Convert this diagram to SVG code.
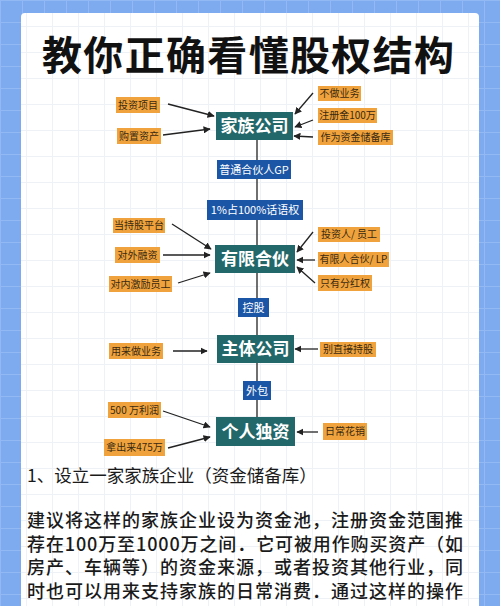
<svg xmlns="http://www.w3.org/2000/svg" width="500" height="606" viewBox="0 0 500 606">
<style>
.node rect{fill:#22686a}
.node text{fill:#fff;font-family:"Noto Sans CJK SC",sans-serif;font-weight:700;font-size:17px;text-anchor:middle}
.tag rect{fill:#1b56a6}
.tag text{fill:#fff;font-family:"Noto Sans CJK SC",sans-serif;font-size:11px;text-anchor:middle}
.lab rect{fill:#f0a33c}
.lab text{fill:#3a2a12;font-family:"Noto Sans CJK SC",sans-serif;font-size:10px;text-anchor:middle}
.con line{stroke:#222;stroke-width:1.3}
.con .arr{marker-end:url(#ah)}
.body{font-family:"Noto Sans CJK SC",sans-serif;fill:#1a1a1a}
</style>
<defs>
<marker id="ah" viewBox="0 0 10 10" refX="9" refY="5" markerWidth="5.5" markerHeight="5.5" orient="auto"><path d="M0,0L10,5L0,10z" fill="#222"/></marker>
<pattern id="bg" width="22" height="22" patternUnits="userSpaceOnUse"><rect width="22" height="22" fill="#7eaaf0"/><path d="M0,0.5H22M0.5,0V22" stroke="#93b9f4" stroke-width="1"/></pattern>
<pattern id="pg" width="26" height="26" patternUnits="userSpaceOnUse"><rect width="26" height="26" fill="#fff"/><path d="M0,0.5H26M0.5,0V26" stroke="#eef1f6" stroke-width="1"/></pattern>
</defs>
<rect width="500" height="606" fill="url(#bg)"/>
<rect x="21" y="13" width="458" height="600" rx="4" fill="url(#pg)"/>
<text x="248" y="70" font-family="Noto Sans CJK SC,sans-serif" font-weight="700" font-size="40" text-anchor="middle" fill="#111" textLength="412" lengthAdjust="spacing">教你正确看懂股权结构</text>

<g id="connectors" class="con">
<line x1="257" y1="140" x2="257" y2="417"/>
<line class="arr" x1="168" y1="104" x2="214" y2="116"/>
<line class="arr" x1="163" y1="135" x2="210" y2="129"/>
<line class="arr" x1="313" y1="93" x2="295" y2="114"/>
<line class="arr" x1="313" y1="120" x2="295" y2="127"/>
<line class="arr" x1="313" y1="137" x2="294" y2="136"/>
<line class="arr" x1="172" y1="224" x2="211" y2="249"/>
<line class="arr" x1="163" y1="255" x2="210" y2="255"/>
<line class="arr" x1="178" y1="283" x2="210" y2="273"/>
<line class="arr" x1="313" y1="232" x2="297" y2="252"/>
<line class="arr" x1="315" y1="260" x2="297" y2="260"/>
<line class="arr" x1="315" y1="283" x2="297" y2="267"/>
<line class="arr" x1="173" y1="351" x2="207" y2="351"/>
<line class="arr" x1="318" y1="349" x2="295" y2="349"/>
<line class="arr" x1="163" y1="411" x2="210" y2="427"/>
<line class="arr" x1="168" y1="448" x2="210" y2="437"/>
<line class="arr" x1="318" y1="432" x2="297" y2="432"/>
</g>

<g id="n-jiazu" class="node"><rect x="216" y="112" width="77" height="28"/><text x="254.5" y="132">家族公司</text></g>
<g id="t-gp" class="tag"><rect x="217" y="160" width="74" height="19"/><text x="254" y="173.5">普通合伙人GP</text></g>
<g id="t-pct" class="tag"><rect x="207" y="200" width="96" height="20"/><text x="255" y="214">1%占100%话语权</text></g>
<g id="n-youxian" class="node"><rect x="215" y="245" width="80" height="28"/><text x="255" y="265">有限合伙</text></g>
<g id="t-kg" class="tag"><rect x="238" y="298" width="31" height="19"/><text x="253.5" y="311.5">控股</text></g>
<g id="n-zhuti" class="node"><rect x="217" y="335" width="77" height="28"/><text x="255.5" y="355">主体公司</text></g>
<g id="t-wb" class="tag"><rect x="243" y="381" width="28" height="19"/><text x="257" y="394.5">外包</text></g>
<g id="n-geren" class="node"><rect x="216" y="417" width="79" height="29"/><text x="255.5" y="437.5">个人独资</text></g>

<g id="l1" class="lab"><rect x="116" y="97" width="44" height="16"/><text x="138" y="108.5">投资项目</text></g>
<g id="l2" class="lab"><rect x="117" y="128" width="44" height="16"/><text x="139" y="139.5">购置资产</text></g>
<g id="l3" class="lab"><rect x="318" y="86" width="43" height="15"/><text x="339.5" y="97">不做业务</text></g>
<g id="l4" class="lab"><rect x="318" y="108" width="59" height="15"/><text x="347.5" y="119">注册金100万</text></g>
<g id="l5" class="lab"><rect x="318" y="130" width="75" height="15"/><text x="355.5" y="141">作为资金储备库</text></g>
<g id="l6" class="lab"><rect x="113" y="218" width="52" height="15"/><text x="139" y="229">当持股平台</text></g>
<g id="l7" class="lab"><rect x="115" y="247" width="45" height="16"/><text x="137.5" y="258.5">对外融资</text></g>
<g id="l8" class="lab"><rect x="109" y="276" width="63" height="16"/><text x="140.5" y="287.5">对内激励员工</text></g>
<g id="l9" class="lab"><rect x="318" y="227" width="62" height="15"/><text x="349" y="238">投资人/ 员工</text></g>
<g id="l10" class="lab"><rect x="318" y="252" width="71" height="15"/><text x="353.5" y="263">有限人合伙/ LP</text></g>
<g id="l11" class="lab"><rect x="318" y="275" width="54" height="16"/><text x="345" y="286.5">只有分红权</text></g>
<g id="l12" class="lab"><rect x="109" y="343" width="54" height="16"/><text x="136" y="354.5">用来做业务</text></g>
<g id="l13" class="lab"><rect x="320" y="342" width="56" height="15"/><text x="348" y="353">别直接持股</text></g>
<g id="l14" class="lab"><rect x="108" y="402" width="53" height="16"/><text x="134.5" y="413.5">500 万利润</text></g>
<g id="l15" class="lab"><rect x="104" y="439" width="61" height="17"/><text x="134.5" y="451">拿出来475万</text></g>
<g id="l16" class="lab"><rect x="323" y="423" width="44" height="17"/><text x="345" y="435">日常花销</text></g>

<text class="body" x="27" y="482" font-size="17.5">1、设立一家家族企业（资金储备库）</text>
<g class="body" font-size="18" font-weight="500">
<text x="27" y="527" textLength="436" lengthAdjust="spacing">建议将这样的家族企业设为资金池，注册资金范围推</text>
<text x="27" y="550.5" textLength="436" lengthAdjust="spacing">荐在100万至1000万之间．它可被用作购买资产（如</text>
<text x="27" y="574" textLength="436" lengthAdjust="spacing">房产、车辆等）的资金来源，或者投资其他行业，同</text>
<text x="27" y="597.5" textLength="436" lengthAdjust="spacing">时也可以用来支持家族的日常消费．通过这样的操作</text>
</g>
</svg>
